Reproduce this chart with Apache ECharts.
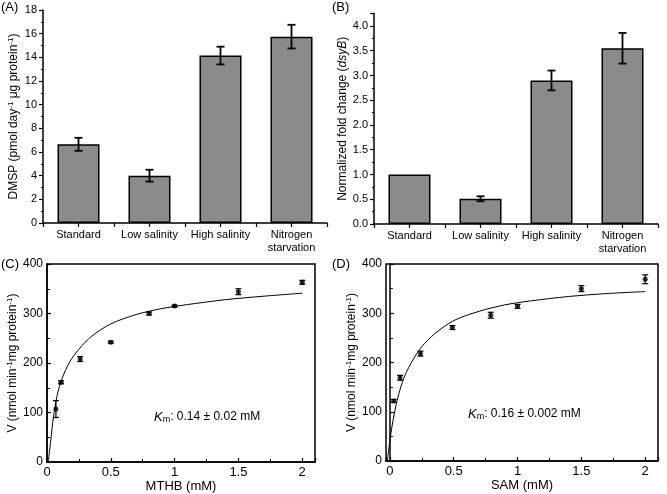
<!DOCTYPE html>
<html>
<head>
<meta charset="utf-8">
<script src="https://cdn.jsdelivr.net/npm/echarts@6/dist/echarts.min.js"></script>
<style>html,body{margin:0;padding:0;background:#fff}#c{width:667px;height:494px}</style>
</head>
<body>
<div id="c"></div>
<script>
// ---------- data ----------
const categories = ['Standard', 'Low salinity', 'High salinity', 'Nitrogen\nstarvation'];
const dmspMean = [6.65, 4.0, 14.15, 15.75];
const dmspErr = [0.55, 0.5, 0.75, 1.0];
const foldMean = [1.0, 0.51, 2.9, 3.55];
const foldErr = [0, 0.05, 0.2, 0.31];

const mthbX = [0.07, 0.11, 0.26, 0.5, 0.8, 1.0, 1.5, 2.0];
const mthbV = [107, 161, 208, 242, 300, 315, 344, 363];
const mthbErr = [17, 3, 5, 2, 3, 2, 6, 4];
const mthbFitX = [0.01, 0.03, 0.05, 0.08, 0.12, 0.18, 0.25, 0.35, 0.5, 0.7, 0.9, 1.1, 1.4, 1.7, 2.0];
const mthbFitV = [0, 45, 90, 135, 170, 203, 228, 254, 279, 298, 310, 318, 328, 335, 341];

const samX = [0.03, 0.08, 0.24, 0.49, 0.79, 1.0, 1.5, 2.0];
const samV = [122, 169, 218, 271, 296, 314, 350, 369];
const samErr = [3, 5, 5, 4, 6, 4, 6, 9];
const samFitX = [-0.02, 0, 0.02, 0.05, 0.08, 0.12, 0.18, 0.25, 0.35, 0.5, 0.7, 0.9, 1.1, 1.4, 1.7, 2.0];
const samFitV = [0, 40, 75, 115, 145, 175, 205, 232, 258, 285, 304, 317, 325, 334, 340, 344];

const yTicksA = [0, 18, 2];
const yTicksB = [0, 4.25, 0.5];
const yTicksCD = [0, 400, 100];

// ---------- helpers ----------
const FONT = '"Liberation Sans", Arial, Helvetica, sans-serif';
const zip = (a, b) => a.map((v, i) => [v, b[i]]);
const zip3 = (a, b, c) => a.map((v, i) => [v, b[i], c[i]]);

function errRender(capW, lw) {
  return function (params, api) {
    const x = api.value(0), y = api.value(1), e = api.value(2);
    if (!e) return null;
    const hi = api.coord([x, y + e]), lo = api.coord([x, y - e]);
    const style = { stroke: '#000', lineWidth: lw };
    return {
      type: 'group', children: [
        { type: 'line', shape: { x1: hi[0], y1: hi[1], x2: lo[0], y2: lo[1] }, style },
        { type: 'line', shape: { x1: hi[0] - capW / 2, y1: hi[1], x2: hi[0] + capW / 2, y2: hi[1] }, style },
        { type: 'line', shape: { x1: lo[0] - capW / 2, y1: lo[1], x2: lo[0] + capW / 2, y2: lo[1] }, style }
      ]
    };
  };
}

const nameRich = {
  n: { fontSize: 12, fontFamily: FONT, color: '#000', lineHeight: 14 },
  i: { fontSize: 12, fontFamily: FONT, color: '#000', lineHeight: 14, fontStyle: 'italic' },
  s: { fontSize: 8, fontFamily: FONT, color: '#000', lineHeight: 6, verticalAlign: 'top' }
};
const axLine = { show: true, lineStyle: { color: '#000', width: 1.5 } };

function catAxes(grid) {
  return [
    {
      type: 'category', gridIndex: grid, data: categories, position: 'bottom',
      axisLine: axLine,
      axisTick: { show: true, alignWithLabel: true, length: 4, lineStyle: { color: '#000', width: 1.2 } },
      axisLabel: { color: '#000', fontSize: 11, fontFamily: FONT, margin: 5, interval: 0, lineHeight: 13 }
    },
    {
      type: 'category', gridIndex: grid, data: categories, position: 'bottom',
      axisLine: { show: false },
      axisTick: { show: true, interval: 0, length: 4, lineStyle: { color: '#000', width: 1.2 } },
      axisLabel: { show: false }
    }
  ];
}

function barYAxis(grid, t, name, gap) {
  return {
    type: 'value', gridIndex: grid, min: t[0], max: t[1], interval: t[2],
    name: name, nameLocation: 'middle', nameGap: gap, nameRotate: 90,
    nameTextStyle: { rich: nameRich },
    axisLine: axLine,
    axisTick: { show: true, length: 4, lineStyle: { color: '#000', width: 1.2 } },
    minorTick: { show: true, splitNumber: 2, length: 2, lineStyle: { color: '#000', width: 1 } },
    splitLine: { show: false },
    axisLabel: { color: '#000', fontSize: 11, fontFamily: FONT, margin: 6, showMaxLabel: t[1] % t[2] === 0,
      formatter: v => (t[2] < 1 ? v.toFixed(1) : String(v)) }
  };
}

function kinX(grid, min, max, name, hideMin) {
  return {
    type: 'value', gridIndex: grid, min: min, max: max, splitNumber: 5,
    name: name, nameLocation: 'middle', nameGap: 10,
    nameTextStyle: { color: '#000', fontSize: 13, fontFamily: FONT, verticalAlign: 'top' },
    axisLine: axLine,
    axisTick: { show: true, inside: true, length: 4, lineStyle: { color: '#000', width: 1.2 } },
    minorTick: { show: true, splitNumber: 2, length: 3, lineStyle: { color: '#000', width: 1 } },
    splitLine: { show: false },
    axisLabel: { color: '#000', fontSize: 13, fontFamily: FONT, margin: 4, showMaxLabel: false, showMinLabel: !hideMin }
  };
}
function kinY(grid, name, gap) {
  return {
    type: 'value', gridIndex: grid, min: yTicksCD[0], max: yTicksCD[1], interval: yTicksCD[2],
    name: name, nameLocation: 'middle', nameGap: gap, nameRotate: 90,
    nameTextStyle: { rich: nameRich },
    axisLine: axLine,
    axisTick: { show: true, inside: true, length: 4, lineStyle: { color: '#000', width: 1.2 } },
    minorTick: { show: true, splitNumber: 2, length: 3, lineStyle: { color: '#000', width: 1 } },
    splitLine: { show: false },
    axisLabel: { color: '#000', fontSize: 12, fontFamily: FONT, margin: 4 }
  };
}

const vName = '{n|V (nmol min}{s|-1}{n|mg protein}{s|-1}{n|)}';
const barStyle = { color: '#8b8b8b', borderColor: '#000', borderWidth: 1.5 };

const option = {
  animation: false,
  backgroundColor: '#fff',
  grid: [
    { left: 43, top: 10, width: 284, height: 213 },
    { left: 374, top: 13.6, width: 284, height: 210.4 },
    { left: 47, top: 264, width: 268, height: 198, show: true, borderColor: '#000', borderWidth: 1.5 },
    { left: 386, top: 264, width: 272, height: 197, show: true, borderColor: '#000', borderWidth: 1.5 }
  ],
  xAxis: [
    ...catAxes(0), ...catAxes(1),
    kinX(2, 0, 2.1, 'MTHB (mM)', false),
    kinX(3, -0.03, 2.1, 'SAM (mM)', true)
  ],
  yAxis: [
    barYAxis(0, yTicksA, '{n|DMSP (pmol day}{s|-1}{n| μg protein}{s|-1}{n|)}', 22),
    barYAxis(1, yTicksB, '{n|Normalized fold change (}{i|dsyB}{n|)}', 22),
    kinY(2, vName, 24),
    kinY(3, vName, 27)
  ],
  series: [
    { type: 'bar', xAxisIndex: 0, yAxisIndex: 0, data: dmspMean, barWidth: 42, itemStyle: barStyle },
    { type: 'custom', xAxisIndex: 0, yAxisIndex: 0, data: zip3(categories.map((c, i) => i), dmspMean, dmspErr),
      renderItem: errRender(8, 1.8), encode: { x: 0, y: 1 }, z: 5 },
    { type: 'bar', xAxisIndex: 2, yAxisIndex: 1, data: foldMean, barWidth: 42, itemStyle: barStyle },
    { type: 'custom', xAxisIndex: 2, yAxisIndex: 1, data: zip3(categories.map((c, i) => i), foldMean, foldErr),
      renderItem: errRender(8, 1.8), encode: { x: 0, y: 1 }, z: 5 },

    { type: 'line', xAxisIndex: 4, yAxisIndex: 2, data: zip(mthbFitX, mthbFitV), smooth: 0.3, symbol: 'none',
      lineStyle: { color: '#000', width: 1 }, z: 3 },
    { type: 'custom', xAxisIndex: 4, yAxisIndex: 2, data: zip3(mthbX, mthbV, mthbErr),
      renderItem: errRender(6, 1.2), encode: { x: 0, y: 1 }, z: 4 },
    { type: 'scatter', xAxisIndex: 4, yAxisIndex: 2, data: zip(mthbX, mthbV), symbolSize: 5,
      itemStyle: { color: '#000' }, z: 5 },

    { type: 'line', xAxisIndex: 5, yAxisIndex: 3, data: zip(samFitX, samFitV), smooth: 0.3, symbol: 'none',
      lineStyle: { color: '#000', width: 1 }, z: 3 },
    { type: 'custom', xAxisIndex: 5, yAxisIndex: 3, data: zip3(samX, samV, samErr),
      renderItem: errRender(6, 1.2), encode: { x: 0, y: 1 }, z: 4 },
    { type: 'scatter', xAxisIndex: 5, yAxisIndex: 3, data: zip(samX, samV), symbolSize: 5,
      itemStyle: { color: '#000' }, z: 5 }
  ],
  graphic: [
    { type: 'text', x: 1, y: 7, style: { text: '(A)', fontSize: 13, fontFamily: FONT, fill: '#000', verticalAlign: 'middle' } },
    { type: 'text', x: 332, y: 7, style: { text: '(B)', fontSize: 13, fontFamily: FONT, fill: '#000', verticalAlign: 'middle' } },
    { type: 'text', x: 1, y: 264, style: { text: '(C)', fontSize: 13, fontFamily: FONT, fill: '#000', verticalAlign: 'middle' } },
    { type: 'text', x: 332, y: 264, style: { text: '(D)', fontSize: 13, fontFamily: FONT, fill: '#000', verticalAlign: 'middle' } },
    { type: 'text', x: 154, y: 417, style: {
      text: '{k|K}{b|m}{n|: 0.14 ± 0.02 mM}', verticalAlign: 'middle',
      rich: {
        k: { fontSize: 13, fontFamily: FONT, fontStyle: 'italic', fill: '#000', lineHeight: 15 },
        b: { fontSize: 9, fontFamily: FONT, fill: '#000', lineHeight: 8, verticalAlign: 'bottom' },
        n: { fontSize: 12, fontFamily: FONT, fill: '#000', lineHeight: 15 }
      } } },
    { type: 'text', x: 468, y: 414, style: {
      text: '{k|K}{b|m}{n|: 0.16 ± 0.002 mM}', verticalAlign: 'middle',
      rich: {
        k: { fontSize: 13, fontFamily: FONT, fontStyle: 'italic', fill: '#000', lineHeight: 15 },
        b: { fontSize: 9, fontFamily: FONT, fill: '#000', lineHeight: 8, verticalAlign: 'bottom' },
        n: { fontSize: 12, fontFamily: FONT, fill: '#000', lineHeight: 15 }
      } } }
  ]
};

const chart = echarts.init(document.getElementById('c'), null, { renderer: 'canvas' });
chart.setOption(option);
</script>
</body>
</html>
